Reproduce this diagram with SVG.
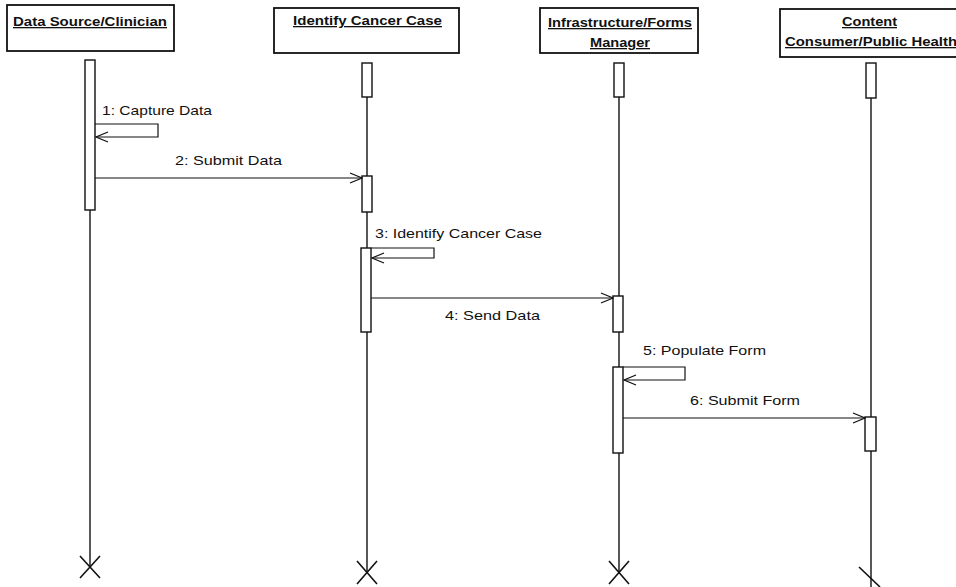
<svg xmlns="http://www.w3.org/2000/svg" width="956" height="587" viewBox="0 0 956 587">
<defs>
<marker id="open" markerWidth="14" markerHeight="12" refX="13" refY="6" orient="auto" markerUnits="userSpaceOnUse">
<path d="M1,1 L13,6 L1,11" fill="none" stroke="#111" stroke-width="1.2"/>
</marker>
<style>
.obj{fill:#fff;stroke:#111;stroke-width:1.8}
.hdr{font-family:"Liberation Sans",Arial,sans-serif;font-weight:bold;font-size:13px;fill:#111;text-decoration:underline}
.lbl{font-family:"Liberation Sans",Arial,sans-serif;font-size:13.5px;fill:#111}
.life{stroke:#111;stroke-width:1.4;fill:none}
.bar{fill:#fff;stroke:#111;stroke-width:1.4}
.msg{stroke:#111;stroke-width:1.2;fill:none;marker-end:url(#open)}
.x{stroke:#111;stroke-width:1.6;fill:none}
</style>
</defs>
<rect width="956" height="587" fill="#fff"/>

<g id="lifelines">
<path class="life" d="M90,210 V567"/>
<path class="life" d="M367,97 V572"/>
<path class="life" d="M619,97 V572"/>
<path class="life" d="M871,98 V587"/>
<path class="x" d="M80,556 L100,578 M100,556 L80,578"/>
<path class="x" d="M357,561 L377,584 M377,561 L357,584"/>
<path class="x" d="M609,561 L629,584 M629,561 L609,584"/>
<path class="x" d="M859,567 L880,587"/>
</g>

<g id="node-data-source">
<rect class="obj" x="7" y="5" width="167" height="46"/>
<text class="hdr" x="13" y="26" textLength="154" lengthAdjust="spacingAndGlyphs">Data Source/Clinician</text>
<rect class="bar" x="85" y="60" width="10" height="150"/>
</g>

<g id="node-identify">
<rect class="obj" x="274" y="8" width="185" height="45"/>
<text class="hdr" x="293" y="25" textLength="149" lengthAdjust="spacingAndGlyphs">Identify Cancer Case</text>
<rect class="bar" x="362" y="63" width="10" height="34"/>
<rect class="bar" x="362" y="176" width="10" height="36"/>
<rect class="bar" x="361" y="248" width="10" height="84"/>
</g>

<g id="node-infrastructure">
<rect class="obj" x="540" y="8" width="158" height="45"/>
<text class="hdr" x="548" y="27" textLength="144" lengthAdjust="spacingAndGlyphs">Infrastructure/Forms </text>
<text class="hdr" x="590" y="47" textLength="60" lengthAdjust="spacingAndGlyphs">Manager</text>
<rect class="bar" x="614" y="63" width="10" height="34"/>
<rect class="bar" x="613" y="296" width="10" height="36"/>
<rect class="bar" x="613" y="367" width="10" height="86"/>
</g>

<g id="node-consumer">
<rect class="obj" x="780" y="9" width="185" height="48"/>
<text class="hdr" x="842" y="26" textLength="55" lengthAdjust="spacingAndGlyphs">Content </text>
<text class="hdr" x="785" y="46" textLength="172" lengthAdjust="spacingAndGlyphs">Consumer/Public Health</text>
<rect class="bar" x="866" y="63" width="10" height="35"/>
<rect class="bar" x="865" y="417" width="11" height="34"/>
</g>

<g id="connectors">
<path class="msg" d="M95,124 H158 V137 H96"/>
<path class="msg" d="M95,178 H362"/>
<path class="msg" d="M371,248 H434 V258 H372"/>
<path class="msg" d="M371,298 H613"/>
<path class="msg" d="M623,367 H685 V380 H624"/>
<path class="msg" d="M623,418 H865"/>
<text class="lbl" x="102" y="115" textLength="110" lengthAdjust="spacingAndGlyphs">1: Capture Data</text>
<text class="lbl" x="175" y="165" textLength="107" lengthAdjust="spacingAndGlyphs">2: Submit Data</text>
<text class="lbl" x="375" y="238" textLength="167" lengthAdjust="spacingAndGlyphs">3: Identify Cancer Case</text>
<text class="lbl" x="445" y="320" textLength="95" lengthAdjust="spacingAndGlyphs">4: Send Data</text>
<text class="lbl" x="643" y="355" textLength="123" lengthAdjust="spacingAndGlyphs">5: Populate Form</text>
<text class="lbl" x="690" y="405" textLength="110" lengthAdjust="spacingAndGlyphs">6: Submit Form</text>
</g>
</svg>
